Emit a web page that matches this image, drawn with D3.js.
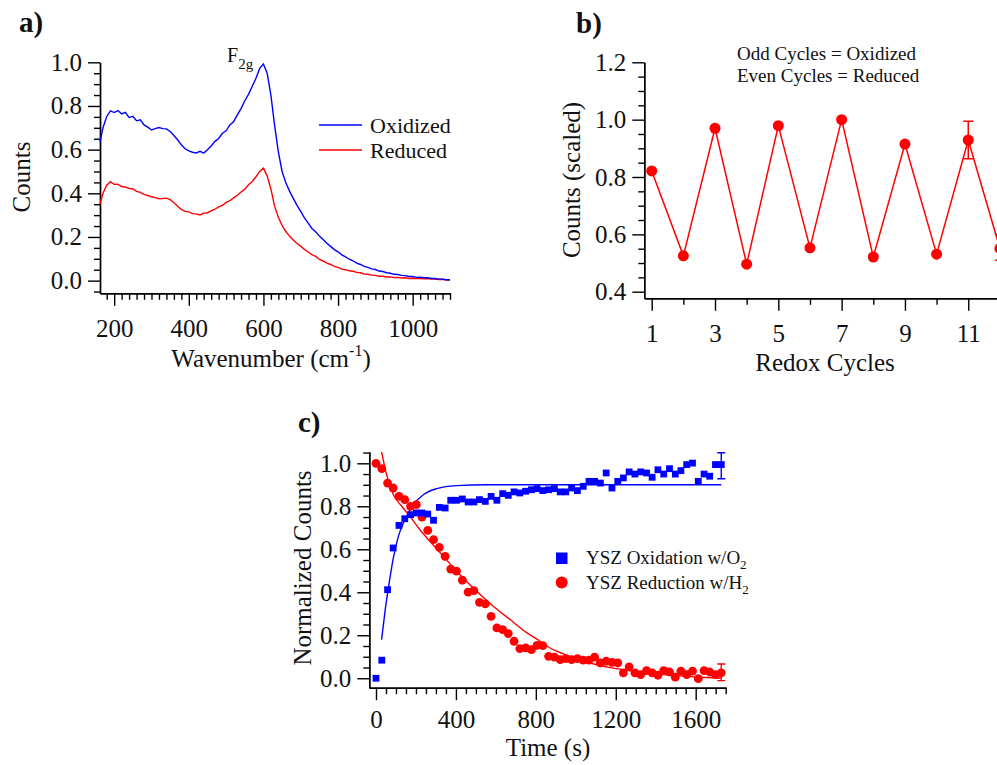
<!DOCTYPE html>
<html>
<head>
<meta charset="utf-8">
<script src="https://cdn.jsdelivr.net/npm/d3@7"></script>
<style>
body { margin: 0; background: #fff; }
svg { display: block; font-family: "Liberation Serif", "Times New Roman", serif; }
.axis path, .axis line { stroke: #000; stroke-width: 1.4; }
.axis text { font-size: 25px; fill: #111; font-family: "Liberation Serif", serif; }
</style>
</head>
<body>
<div id="chart"></div>
<script>
// a) Raman spectra
var wavenumber = [162, 170, 180, 190, 200, 210, 220, 230, 240, 250, 260, 270, 280, 290, 300, 310, 320, 330, 340, 350,
  360, 370, 380, 390, 400, 410, 420, 430, 440, 450, 460, 470, 480, 490, 500, 510, 520, 530, 540, 550,
  560, 570, 580, 590, 600, 610, 620, 630, 640, 650, 660, 670, 680, 690, 700, 710, 720, 730, 740, 750,
  760, 770, 780, 790, 800, 810, 820, 830, 840, 850, 860, 870, 880, 890, 900, 910, 920, 930, 940, 950,
  960, 970, 980, 990, 1000, 1010, 1020, 1030, 1040, 1050, 1060, 1070, 1080, 1090, 1100];
var oxidized = [0.636, 0.700, 0.752, 0.778, 0.770, 0.779, 0.764, 0.771, 0.747, 0.753, 0.732, 0.737, 0.713, 0.703, 0.690, 0.696, 0.701, 0.696, 0.695, 0.683,
  0.665, 0.645, 0.622, 0.604, 0.594, 0.588, 0.585, 0.592, 0.584, 0.599, 0.617, 0.638, 0.651, 0.675, 0.686, 0.713, 0.727, 0.759, 0.788, 0.824,
  0.853, 0.890, 0.927, 0.972, 0.992, 0.950, 0.850, 0.710, 0.590, 0.500, 0.448, 0.410, 0.377, 0.345, 0.317, 0.287, 0.263, 0.239, 0.224, 0.204,
  0.188, 0.171, 0.157, 0.142, 0.132, 0.118, 0.109, 0.098, 0.091, 0.080, 0.074, 0.065, 0.061, 0.054, 0.051, 0.044, 0.042, 0.036, 0.034, 0.029,
  0.028, 0.024, 0.023, 0.019, 0.019, 0.015, 0.016, 0.013, 0.013, 0.010, 0.010, 0.007, 0.007, 0.004, 0.004];
var reduced = [0.350, 0.400, 0.437, 0.453, 0.441, 0.442, 0.431, 0.429, 0.422, 0.421, 0.409, 0.404, 0.395, 0.390, 0.384, 0.380, 0.375, 0.376, 0.378, 0.371,
  0.357, 0.341, 0.326, 0.317, 0.315, 0.307, 0.306, 0.301, 0.309, 0.311, 0.319, 0.327, 0.338, 0.345, 0.358, 0.366, 0.379, 0.391, 0.406, 0.419,
  0.439, 0.454, 0.476, 0.500, 0.515, 0.480, 0.420, 0.340, 0.290, 0.253, 0.225, 0.204, 0.186, 0.170, 0.158, 0.143, 0.131, 0.119, 0.111, 0.097,
  0.090, 0.080, 0.074, 0.065, 0.061, 0.053, 0.050, 0.045, 0.043, 0.038, 0.036, 0.030, 0.029, 0.025, 0.024, 0.020, 0.020, 0.017, 0.017, 0.014,
  0.015, 0.012, 0.013, 0.010, 0.011, 0.009, 0.010, 0.008, 0.009, 0.007, 0.007, 0.005, 0.006, 0.003, 0.003];

// b) redox cycles
var cycles = [1, 2, 3, 4, 5, 6, 7, 8, 9, 10, 11, 12];
var cycleCounts = [0.821, 0.525, 0.970, 0.496, 0.979, 0.553, 1.000, 0.521, 0.915, 0.531, 0.929, 0.551];
var cycleErrLow = [null, null, null, null, null, null, null, null, null, null, 0.864, 0.51];
var cycleErrHigh = [null, null, null, null, null, null, null, null, null, null, 0.994, 0.60];

// c) kinetics
var time = [0, 29, 58, 86, 115, 144, 173, 202, 230, 259, 288, 317, 346, 374, 403, 432, 461, 490, 518, 547,
  576, 605, 634, 662, 691, 720, 749, 778, 806, 835, 864, 893, 922, 950, 979, 1008, 1037, 1066, 1094, 1123,
  1152, 1181, 1210, 1238, 1267, 1296, 1325, 1354, 1382, 1411, 1440, 1469, 1498, 1526, 1555, 1584, 1613, 1642, 1670, 1699, 1728];
var oxidation = [0.0, 0.084, 0.412, 0.606, 0.711, 0.742, 0.761, 0.769, 0.769, 0.764, 0.735, 0.795, 0.792, 0.828, 0.828, 0.834, 0.820, 0.820, 0.831, 0.823,
  0.846, 0.828, 0.859, 0.851, 0.867, 0.862, 0.870, 0.877, 0.882, 0.873, 0.877, 0.882, 0.867, 0.867, 0.885, 0.873, 0.893, 0.916, 0.916, 0.908,
  0.955, 0.885, 0.916, 0.932, 0.960, 0.950, 0.960, 0.955, 0.935, 0.970, 0.950, 0.975, 0.950, 0.966, 0.994, 1.001, 0.916, 0.950, 0.940, 0.994, 0.994];
var reduction = [1.0, 0.975, 0.908, 0.885, 0.846, 0.831, 0.800, 0.808, 0.750, 0.688, 0.645, 0.609, 0.567, 0.508, 0.498, 0.456, 0.401, 0.408, 0.353, 0.346,
  0.288, 0.234, 0.226, 0.208, 0.172, 0.138, 0.141, 0.133, 0.153, 0.152, 0.102, 0.098, 0.087, 0.091, 0.087, 0.091, 0.084, 0.084, 0.098, 0.071,
  0.079, 0.074, 0.071, 0.025, 0.053, 0.025, 0.017, 0.035, 0.025, 0.014, 0.035, 0.029, 0.005, 0.033, 0.017, 0.033, -0.002, 0.035, 0.029, 0.017, 0.025];
var oxErr = [0.928, 1.049];
var redErr = [-0.011, 0.066];
var oxFitTime = [28, 45, 62, 87, 112, 145, 187, 237, 304, 404, 554, 1728];
var oxFit = [0.18, 0.31, 0.42, 0.56, 0.66, 0.738, 0.808, 0.854, 0.882, 0.896, 0.900, 0.900];
var redFitTime = [28, 53, 87, 129, 170, 220, 270, 337, 420, 504, 587, 671, 754, 821, 854, 938, 1021, 1105, 1188, 1272, 1438, 1605, 1728];
var redFit = [1.053, 0.947, 0.854, 0.800, 0.753, 0.691, 0.637, 0.567, 0.482, 0.405, 0.335, 0.273, 0.212, 0.172, 0.150, 0.113, 0.085, 0.063, 0.047, 0.035, 0.017, 0.006, 0.0];

var BLUE = "#0000ff", RED = "#ff0000";

var svg = d3.select("#chart").append("svg")
  .attr("width", 997)
  .attr("height", 765);

function between(lo, hi, step, majors) {
  return d3.range(lo, hi + step / 2, step).filter(v => !majors.some(m => Math.abs(m - v) < 1e-6));
}

function drawAxes(x, y, o) {
  var y0 = y.range()[0], x0 = x.range()[0];
  svg.append("g").attr("class", "axis").attr("transform", "translate(0," + y0 + ")")
    .call(d3.axisBottom(x).tickValues(o.xMinor).tickSize(6.5).tickFormat("").tickSizeOuter(0));
  svg.append("g").attr("class", "axis").attr("transform", "translate(0," + y0 + ")")
    .call(d3.axisBottom(x).tickValues(o.xMajor).tickSize(12.5).tickPadding(o.xPad).tickSizeOuter(0).tickFormat(o.xFmt));
  svg.append("g").attr("class", "axis").attr("transform", "translate(" + x0 + ",0)")
    .call(d3.axisLeft(y).tickValues(o.yMinor).tickSize(6).tickFormat("").tickSizeOuter(0));
  svg.append("g").attr("class", "axis").attr("transform", "translate(" + x0 + ",0)")
    .call(d3.axisLeft(y).tickValues(o.yMajor).tickSize(12).tickPadding(6).tickSizeOuter(0).tickFormat(d3.format(".1f")));
}

function label(txt, x, y, size, opts) {
  var t = svg.append("text").attr("x", x).attr("y", y).attr("font-size", size).attr("fill", "#111").text(txt);
  if (opts && opts.bold) t.attr("font-weight", "bold");
  if (opts && opts.anchor) t.attr("text-anchor", opts.anchor);
  return t;
}

// ---------- a) ----------
var xA = d3.scaleLinear().domain([162, 1100]).range([100, 450]);
var yA = d3.scaleLinear().domain([-0.058, 1.0]).range([293.3, 62.3]);
var aMajX = [200, 400, 600, 800, 1000], aMajY = [0, 0.2, 0.4, 0.6, 0.8, 1.0];
drawAxes(xA, yA, {
  xMajor: aMajX, xMinor: between(180, 1100, 20, aMajX), xPad: 13, xFmt: d3.format("d"),
  yMajor: aMajY, yMinor: between(-0.05, 0.95, 0.05, aMajY)
});

var lineA = d3.line().x((d, i) => xA(wavenumber[i])).y(d => yA(d));
svg.append("path").datum(reduced).attr("d", lineA).attr("fill", "none").attr("stroke", RED).attr("stroke-width", 1.4);
svg.append("path").datum(oxidized).attr("d", lineA).attr("fill", "none").attr("stroke", BLUE).attr("stroke-width", 1.4);

label("a)", 19, 32, 29, {bold: true});
var f2g = label("F", 227, 62, 20);
f2g.append("tspan").attr("font-size", 15).attr("dy", 7).text("2g");

svg.append("text").attr("transform", "translate(30,177) rotate(-90)").attr("text-anchor", "middle")
  .attr("font-size", 25).attr("fill", "#111").text("Counts");
var wl = label("Wavenumber (cm", 271, 367, 25, {anchor: "middle"});
wl.append("tspan").attr("font-size", 16).attr("dy", -11).text("-1");
wl.append("tspan").attr("dy", 11).text(")");

var legA = [["Oxidized", BLUE, 125], ["Reduced", RED, 150]];
legA.forEach(function(l) {
  svg.append("line").attr("x1", 319).attr("x2", 362).attr("y1", l[2]).attr("y2", l[2])
    .attr("stroke", l[1]).attr("stroke-width", 1.5);
  label(l[0], 370, l[2] + 7.5, 22);
});

// ---------- b) ----------
var xB = d3.scaleLinear().domain([0.766, 12.3]).range([644.3, 1009.4]);
var yB = d3.scaleLinear().domain([0.377, 1.2]).range([298.3, 62.3]);
var bMajX = [1, 3, 5, 7, 9, 11], bMajY = [0.4, 0.6, 0.8, 1.0, 1.2];
drawAxes(xB, yB, {
  xMajor: bMajX, xMinor: [2, 4, 6, 8, 10, 12], xPad: 13, xFmt: d3.format("d"),
  yMajor: bMajY, yMinor: between(0.45, 1.15, 0.05, bMajY)
});

var lineB = d3.line().x((d, i) => xB(cycles[i])).y(d => yB(d));
svg.append("path").datum(cycleCounts).attr("d", lineB).attr("fill", "none").attr("stroke", RED).attr("stroke-width", 1.5);
cycles.forEach(function(c, i) {
  if (cycleErrLow[i] == null) return;
  var cx = xB(c);
  svg.append("path")
    .attr("d", "M" + cx + "," + yB(cycleErrLow[i]) + "V" + yB(cycleErrHigh[i]) +
      "M" + (cx - 5) + "," + yB(cycleErrLow[i]) + "H" + (cx + 5) +
      "M" + (cx - 5) + "," + yB(cycleErrHigh[i]) + "H" + (cx + 5))
    .attr("stroke", RED).attr("stroke-width", 1.5).attr("fill", "none");
});
svg.selectAll(".cyc").data(cycleCounts).enter().append("circle")
  .attr("cx", (d, i) => xB(cycles[i])).attr("cy", d => yB(d)).attr("r", 5.5).attr("fill", RED);

label("b)", 576, 33, 29, {bold: true});
label("Odd Cycles = Oxidized", 737, 60, 19);
label("Even Cycles = Reduced", 737, 82, 19);
svg.append("text").attr("transform", "translate(580,180) rotate(-90)").attr("text-anchor", "middle")
  .attr("font-size", 25).attr("fill", "#111").text("Counts (scaled)");
label("Redox Cycles", 825, 371, 25, {anchor: "middle"});

// ---------- c) ----------
var xC = d3.scaleLinear().domain([-33.5, 1751.7]).range([369.3, 726]);
var yC = d3.scaleLinear().domain([-0.044, 1.054]).range([687.7, 451.7]);
var cMajX = [0, 400, 800, 1200, 1600], cMajY = [0, 0.2, 0.4, 0.6, 0.8, 1.0];
drawAxes(xC, yC, {
  xMajor: cMajX, xMinor: between(0, 1750, 50, cMajX), xPad: 10, xFmt: d3.format("d"),
  yMajor: cMajY, yMinor: between(0.05, 1.05, 0.05, cMajY)
});

var fitLine = d3.line().curve(d3.curveMonotoneX);
svg.append("path").datum(oxFit.map((v, i) => [xC(oxFitTime[i]), yC(v)])).attr("d", fitLine)
  .attr("fill", "none").attr("stroke", BLUE).attr("stroke-width", 1.4);
svg.append("path").datum(redFit.map((v, i) => [xC(redFitTime[i]), yC(v)])).attr("d", fitLine)
  .attr("fill", "none").attr("stroke", RED).attr("stroke-width", 1.4);

function errBar(t, lo, hi, color) {
  var cx = xC(t);
  svg.append("path")
    .attr("d", "M" + cx + "," + yC(lo) + "V" + yC(hi) +
      "M" + (cx - 4) + "," + yC(lo) + "H" + (cx + 4) +
      "M" + (cx - 4) + "," + yC(hi) + "H" + (cx + 4))
    .attr("stroke", color).attr("stroke-width", 1.4).attr("fill", "none");
}
errBar(time[time.length - 1], oxErr[0], oxErr[1], BLUE);
errBar(time[time.length - 1], redErr[0], redErr[1], RED);

svg.selectAll(".red").data(reduction).enter().append("circle")
  .attr("cx", (d, i) => xC(time[i])).attr("cy", d => yC(d)).attr("r", 4.4).attr("fill", RED);
svg.selectAll(".blue").data(oxidation).enter().append("rect")
  .attr("x", (d, i) => xC(time[i]) - 3.4).attr("y", d => yC(d) - 3.4)
  .attr("width", 6.8).attr("height", 6.8).attr("fill", BLUE);

label("c)", 298, 432, 29, {bold: true});
svg.append("text").attr("transform", "translate(311,568) rotate(-90)").attr("text-anchor", "middle")
  .attr("font-size", 25).attr("fill", "#111").text("Normalized Counts");
label("Time (s)", 548, 756, 25, {anchor: "middle"});

svg.append("rect").attr("x", 556).attr("y", 552.5).attr("width", 11.5).attr("height", 11.5).attr("fill", BLUE);
svg.append("circle").attr("cx", 561.7).attr("cy", 582.5).attr("r", 6).attr("fill", RED);
var l1 = label("YSZ Oxidation w/O", 586, 564, 19);
l1.append("tspan").attr("font-size", 13).attr("dy", 5).text("2");
var l2 = label("YSZ Reduction w/H", 586, 589, 19);
l2.append("tspan").attr("font-size", 13).attr("dy", 5).text("2");
</script>
</body>
</html>
